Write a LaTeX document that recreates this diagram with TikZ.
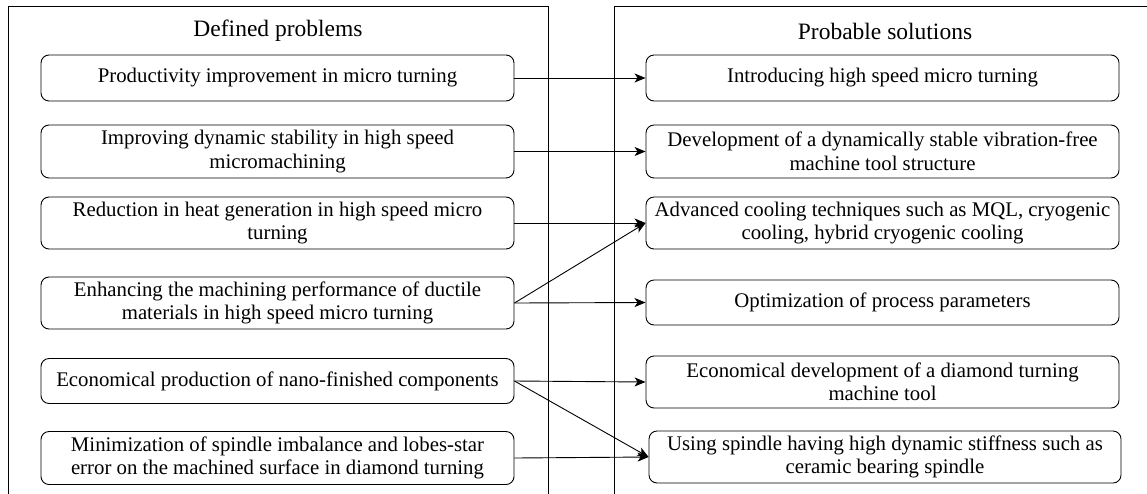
\documentclass[tikz,border=0pt]{standalone}
\usepackage{fontspec}
\setmainfont{Liberation Serif}
\usetikzlibrary{arrows.meta}

\begin{document}
\begin{tikzpicture}[x=1pt,y=-1pt]

\clip (0,0) rectangle (1147,493);

\tikzstyle{every node}=[font=\fontsize{20.8}{23.5}\selectfont]
\tikzstyle{itembox}=[draw, line width=0.9pt, rounded corners=8pt, align=center, minimum width=473pt, inner sep=0pt]
\tikzstyle{paneltitle}=[font=\fontsize{23.5}{26}\selectfont]
\tikzstyle{link}=[line width=0.9pt, -{Stealth[length=11pt,width=9pt,inset=3pt]}]

% panels
\draw[line width=0.9pt] (8,510) -- (8,6) -- (548,6) -- (548,510);
\draw[line width=0.9pt] (614,510) -- (614,6) -- (1160,6);
\node[paneltitle] (ptitle) at (278,31) {Defined problems};
\node[paneltitle] (stitle) at (885,31) {Probable solutions};

% problems
\node[itembox, minimum height=46pt] (p1) at (277.5,78) {Productivity improvement in micro turning};
\node[itembox, minimum height=53pt] (p2) at (277.5,151.5) {Improving dynamic stability in high speed\\micromachining};
\node[itembox, minimum height=52pt] (p3) at (277.5,223) {Reduction in heat generation in high speed micro\\turning};
\node[itembox, minimum height=52pt] (p4) at (277.5,303) {Enhancing the machining performance of ductile\\materials in high speed micro turning};
\node[itembox, minimum height=45pt] (p5) at (277.5,381) {Economical production of nano-finished components};
\node[itembox, minimum height=53pt] (p6) at (277.5,458) {Minimization of spindle imbalance and lobes-star\\error on the machined surface in diamond turning};

% solutions
\node[itembox, minimum height=46pt] (s1) at (882.5,78) {Introducing high speed micro turning};
\node[itembox, minimum height=53pt] (s2) at (882.5,151.5) {Development of a dynamically stable vibration-free\\machine tool structure};
\node[itembox, minimum height=52pt] (s3) at (882.5,223) {Advanced cooling techniques such as MQL, cryogenic\\cooling, hybrid cryogenic cooling};
\node[itembox, minimum height=45pt] (s4) at (882.5,302.5) {Optimization of process parameters};
\node[itembox, minimum height=52pt] (s5) at (882.5,382) {Economical development of a diamond turning\\machine tool};
\node[itembox, minimum height=52pt, minimum width=472pt] (s6) at (885,457) {Using spindle having high dynamic stiffness such as\\ceramic bearing spindle};

% connections
\draw[link] (p1.east) -- (s1.west);
\draw[link] (p2.east) -- (s2.west);
\draw[link] (p3.east) -- (s3.west);
\draw[link] (p4.east) -- (s3.west);
\draw[link] (p4.east) -- (s4.west);
\draw[link] (p5.east) -- (s5.west);
\draw[link] (p5.east) -- (s6.west);
\draw[link] (p6.east) -- (s6.west);

\end{tikzpicture}
\end{document}
